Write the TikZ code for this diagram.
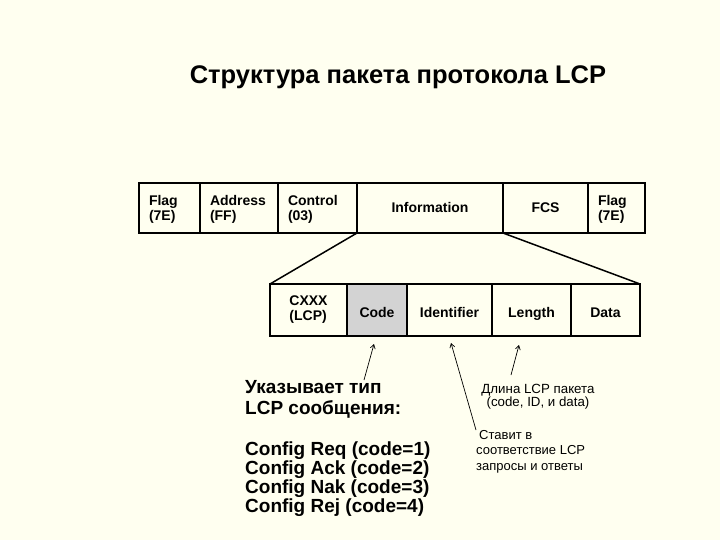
\documentclass[tikz,border=0pt]{standalone}
\usepackage{fontspec}
\setmainfont{Liberation Sans}
\usetikzlibrary{positioning,arrows.meta}
\definecolor{paper}{RGB}{255,255,240}
\definecolor{codegray}{RGB}{211,211,211}
\tikzset{
  field/.style={draw,line width=1.5pt,outer sep=0pt,inner ysep=0pt,
    minimum height=#1,font=\bfseries\fontsize{14}{15}\selectfont},
  field/.default=50pt,
  lfield/.style={field,inner xsep=10pt,align=left,
    execute at begin node={\rule{0pt}{13pt}}},
  cfield/.style={field,align=center,text height=11pt,text depth=1pt},
  pfield/.style={field=52pt,align=center,text height=14pt,text depth=0pt},
  note/.style={inner sep=0pt,anchor=north west,align=left},
  pointer/.style={line width=0.7pt,-{Straight Barb[length=4pt,width=5pt]}}
}
\begin{document}
\begin{tikzpicture}[x=1pt,y=-1pt]
  \useasboundingbox[fill=paper] (0,0) rectangle (720,540);
  % title
  \node[anchor=base,font=\bfseries\fontsize{25.5}{28}\selectfont] (title) at (398,84)
    {Структура пакета протокола LCP};
  % PPP frame
  \node[lfield,text width=41pt,anchor=north west] (flagA) at (139,183) {Flag\\(7E)};
  \node[lfield,text width=58pt,right=0pt of flagA] (addr) {Address\\(FF)};
  \node[lfield,text width=59pt,right=0pt of addr] (ctrl) {Control\\(03)};
  \node[cfield,minimum width=146pt,right=0pt of ctrl] (info) {Information};
  \node[cfield,minimum width=85pt,right=0pt of info] (fcs) {FCS};
  \node[lfield,text width=37pt,right=0pt of fcs] (flagB) {Flag\\(7E)};
  % LCP packet
  \node[field=52pt,align=left,minimum width=77pt,anchor=north west] (cxxx) at (270,284) {CXXX\\(LCP)};
  \node[pfield,fill=codegray,minimum width=60pt,right=0pt of cxxx] (code) {Code};
  \node[pfield,minimum width=85pt,right=0pt of code] (ident) {Identifier};
  \node[pfield,minimum width=79pt,right=0pt of ident] (len) {Length};
  \node[pfield,minimum width=69pt,right=0pt of len] (data) {Data};
  \draw[line width=1.5pt] (ctrl.south east) -- (cxxx.north west);
  \draw[line width=1.5pt] (info.south east) -- (data.north east);
  % notes
  \node[note,font=\bfseries\fontsize{19}{21}\selectfont] (typenote) at (245,380)
    {Указывает тип\\LCP сообщения:};
  \node[note,font=\bfseries\fontsize{19}{18.8}\selectfont] (codes) at (245,442)
    {Config Req (code=1)\\Config Ack (code=2)\\Config Nak (code=3)\\Config Rej (code=4)};
  \node[inner sep=0pt,anchor=north,align=center,font=\fontsize{13.3}{13}\selectfont] (lennote) at (538,384)
    {Длина LCP пакета\\(code, ID, и data)};
  \node[note,font=\fontsize{13}{15.5}\selectfont] (idnote) at (476,430)
    {\hspace{3pt}Ставит в\\соответствие LCP\\запросы и ответы};
  % pointers
  \coordinate (codetail) at (364,380);
  \coordinate (codetip) at (374,344);
  \coordinate (idtail) at (476,430);
  \coordinate (idtip) at (451,343);
  \coordinate (lentail) at (511,375);
  \coordinate (lentip) at (519,345);
  \draw[pointer] (codetail) -- (codetip);
  \draw[pointer] (idtail) -- (idtip);
  \draw[pointer] (lentail) -- (lentip);
\end{tikzpicture}
\end{document}
